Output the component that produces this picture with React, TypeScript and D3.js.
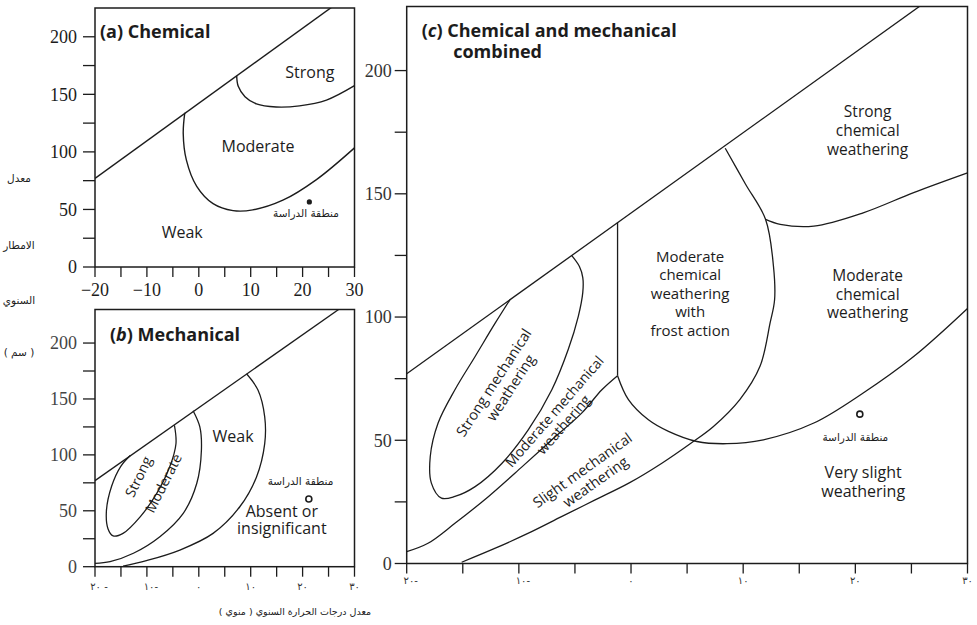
import React from 'react';
import * as d3 from 'd3';

type Pt = [number, number];

// upper limit of the climate field, the same straight edge in all three panels
const envelope: Pt[] = [[-20, 77], [30, 240]];

// (a) chemical weathering boundaries  [temp °C, rain cm]
const chemStrongA: Pt[] = [[7.3, 166], [7.6, 157], [8.9, 148], [11.1, 141.7], [14.9, 139], [19.4, 140], [24.6, 145], [30, 157.5]];
const chemModerateA: Pt[] = [[-2.7, 134], [-3.0, 116], [-2.4, 93], [-0.4, 70], [2.75, 55], [6.6, 49], [10.4, 49.6], [16.2, 58], [22.6, 75.7], [30, 103.5]];

// (b) mechanical weathering boundaries
const mechStrongB: Pt[] = [[-13.2, 99.5], [-15, 90], [-16.8, 72], [-17.8, 50], [-17.5, 34], [-16.5, 27.5], [-14.6, 29.8], [-11.3, 44.6], [-8.1, 65.5], [-5.6, 89.3], [-4.4, 110], [-4.7, 126.5]];
const mechModerateB: Pt[] = [[-1.1, 139.5], [0.2, 125], [0.5, 104], [-0.4, 74.4], [-3, 47.7], [-7.5, 26.8], [-12.6, 12], [-17.1, 4.5], [-20, 3]];
const mechWeakB: Pt[] = [[9.2, 172.5], [11.4, 158], [12.7, 134], [12.7, 110], [11.1, 80], [7.9, 53.6], [2.75, 29.8], [-3.65, 14.9], [-10.1, 5.4], [-14.6, 0.5]];

// (c) combined
const frostEdgeC: Pt[] = [[-1.2, 138.5], [-1.2, 76.2]];
const strongMechC: Pt[] = [[-10.8, 107], [-12.1, 97.6], [-13.9, 84], [-15.7, 70.5], [-17.2, 57], [-17.9, 43.4], [-17.8, 32.6], [-16.9, 26.5], [-15.7, 27.2], [-13.9, 31.2], [-11.5, 40.7], [-9.15, 54.3], [-7.06, 70.5], [-5.6, 86.8], [-4.7, 100.3], [-4.3, 110], [-4.3, 116], [-4.6, 120.5], [-5.3, 125]];
const moderateMechC: Pt[] = [[-1.2, 76.2], [-2.6, 70.5], [-4.4, 61], [-7.06, 50.2], [-9.7, 39.3], [-12.7, 27.2], [-15.7, 16.3], [-18.1, 8.2], [-20, 4.8]];
const weakMechC: Pt[] = [[8.4, 168.5], [10.2, 154], [12, 139.6], [12.7, 120.6], [12.8, 107], [12.4, 97.6], [11.5, 80], [9.7, 66.5], [7.35, 55.6], [5.4, 49], [2.75, 40.7], [-0.2, 32.6], [-3.2, 25.8], [-6.2, 19], [-9.15, 12.3], [-12.1, 6.2], [-15.1, 0.5]];
const strongChemC: Pt[] = [[12, 139.6], [13.3, 137.6], [16.3, 136.9], [20.7, 142.3], [25.2, 150.5], [30, 158.5]];
const moderateChemC: Pt[] = [[-1.2, 76.2], [-0.23, 66.5], [1.55, 58.3], [3.34, 53.6], [5.87, 49.5], [8.55, 48.6], [11.8, 50.2], [16.3, 57], [20.7, 69.2], [25.2, 84], [30, 103.5]];

// study area (منطقة الدراسة)
const studyA: Pt = [21.3, 56.5];
const studyB: Pt = [21.2, 60.5];
const studyC: Pt = [20.4, 60.6];

// ticks and tick labels
const tempTicks = d3.range(-20, 31, 5);
const rainTicks = d3.range(0, 201, 25);
const tempLabelValues = [-20, -10, 0, 10, 20, 30];
const tempLabelsLatin = ['−20', '−10', '0', '10', '20', '30'];
const tempLabelsArabicB = ['٢٠ -', '١٠-', '٠', '١٠', '٢٠', '٣٠'];
const tempLabelsArabicC = ['٢٠-', '١٠-', '٠', '١٠', '٢٠', '٣٠'];
const rainLabelValues = [0, 50, 100, 150, 200];

const W = 977;
const H = 625;
const INK = '#1c1c1c';
const SANS = "'Open Sans', 'Noto Sans', sans-serif";
const SERIF = "'Liberation Serif', 'DejaVu Serif', serif";
const ARABIC = "'DejaVu Sans', sans-serif";
const STUDY = 'منطقة الدراسة';

type Panel = { key: string; left: number; right: number; top: number; bottom: number; yMax: number };
const panelA: Panel = { key: 'a', left: 95, right: 354.5, top: 8, bottom: 267, yMax: 225 };
const panelB: Panel = { key: 'b', left: 95, right: 354.5, top: 309.5, bottom: 566.7, yMax: 230 };
const panelC: Panel = { key: 'c', left: 406.7, right: 967.5, top: 6.5, bottom: 563.5, yMax: 226 };

function scalesFor(p: Panel) {
  const x = d3.scaleLinear().domain([-20, 30]).range([p.left, p.right]);
  const y = d3.scaleLinear().domain([0, p.yMax]).range([p.bottom, p.top]);
  const smooth = d3.line<Pt>().x(d => x(d[0])).y(d => y(d[1])).curve(d3.curveCatmullRom.alpha(0.5));
  const straight = d3.line<Pt>().x(d => x(d[0])).y(d => y(d[1]));
  return { x, y, smooth, straight };
}

function Frame({ p, x, y, labels, xLabelDy, yLabelGap, yLabelFill }: any) {
  return (
    <g>
      <defs>
        <clipPath id={`clip-${p.key}`}>
          <rect x={p.left} y={p.top} width={p.right - p.left} height={p.bottom - p.top} />
        </clipPath>
      </defs>
      <rect x={p.left} y={p.top} width={p.right - p.left} height={p.bottom - p.top} fill="none" stroke={INK} strokeWidth={1.5} />
      {tempTicks.map(t => (
        <line key={'xt' + t} x1={x(t)} x2={x(t)} y1={p.bottom} y2={p.bottom + 10} stroke={INK} strokeWidth={1.3} />
      ))}
      {rainTicks.map(r => (
        <line key={'yt' + r} x1={p.left - 12} x2={p.left} y1={y(r)} y2={y(r)} stroke={INK} strokeWidth={1.3} />
      ))}
      {rainLabelValues.map(r => (
        <text key={'yl' + r} x={p.left - yLabelGap} y={y(r)} dy="0.35em" textAnchor="end" fontFamily={SERIF} fontSize={18} fill={yLabelFill}>{r}</text>
      ))}
      {tempLabelValues.map((t, i) => (
        labels === 'latin'
          ? <text key={'xl' + t} x={x(t)} y={p.bottom + xLabelDy} textAnchor="middle" fontFamily={SERIF} fontSize={18} fill={INK}>{tempLabelsLatin[i]}</text>
          : <text key={'xl' + t} x={x(t) + (t < 0 ? 4 : 0)} y={p.bottom + xLabelDy} textAnchor="middle" fontFamily={ARABIC} fontSize={10} fill="#333">{labels[i]}</text>
      ))}
    </g>
  );
}

function Title({ x, y, letter, rest, italic = true }: any) {
  return (
    <text x={x} y={y} fontFamily={SANS} fontWeight={700} fontSize={18} fill={INK}>
      (<tspan fontStyle={italic ? 'italic' : 'normal'}>{letter}</tspan>) {rest}
    </text>
  );
}

function Lines({ x, y, lines, lh = 18.5, size = 15.5 }: any) {
  return (
    <text x={x} y={y} textAnchor="middle" fontFamily={SANS} fontSize={size} fill={INK}>
      {lines.map((l: string, i: number) => (
        <tspan key={i} x={x} dy={i === 0 ? 0 : lh}>{l}</tspan>
      ))}
    </text>
  );
}

function Rotated({ x, y, angle, lines, lh = 19, size = 15, shift = 0 }: any) {
  const start = -((lines.length - 1) * lh) / 2 + size * 0.35;
  return (
    <g transform={`translate(${x},${y}) rotate(${angle})`}>
      <text textAnchor="middle" fontFamily={SANS} fontSize={size} fill={INK}>
        {lines.map((l: string, i: number) => (
          <tspan key={i} x={i === 0 ? 0 : shift} y={start + i * lh}>{l}</tspan>
        ))}
      </text>
    </g>
  );
}

function PanelA() {
  const p = panelA;
  const { x, y, smooth, straight } = scalesFor(p);
  return (
    <g>
      <Frame p={p} x={x} y={y} labels="latin" xLabelDy={29} yLabelGap={18} yLabelFill={INK} />
      <g clipPath="url(#clip-a)" fill="none" stroke={INK} strokeWidth={1.4}>
        <path d={straight(envelope) || ''} />
        <path d={smooth(chemStrongA) || ''} />
        <path d={smooth(chemModerateA) || ''} />
      </g>
      <Title x={p.left + 5} y={p.top + 30} letter="a" rest="Chemical" italic={false} />
      <Lines x={x(21.4)} y={y(164)} lines={['Strong']} size={16} />
      <Lines x={x(11.4)} y={y(100)} lines={['Moderate']} size={16} />
      <Lines x={x(-3.2)} y={y(25.2)} lines={['Weak']} size={16} />
      <circle cx={x(studyA[0])} cy={y(studyA[1])} r={2.6} fill={INK} />
      <text x={x(20.65)} y={y(43.4)} textAnchor="middle" direction="rtl" fontFamily={ARABIC} fontSize={10.5} fill={INK}>{STUDY}</text>
    </g>
  );
}

function PanelB() {
  const p = panelB;
  const { x, y, smooth, straight } = scalesFor(p);
  return (
    <g>
      <Frame p={p} x={x} y={y} labels={tempLabelsArabicB} xLabelDy={23} yLabelGap={18} yLabelFill="#444" />
      <g clipPath="url(#clip-b)" fill="none" stroke={INK} strokeWidth={1.3}>
        <path d={straight(envelope) || ''} />
        <path d={smooth(mechStrongB) || ''} />
        <path d={smooth(mechModerateB) || ''} />
        <path d={smooth(mechWeakB) || ''} />
      </g>
      <Title x={p.left + 15} y={p.top + 31.5} letter="b" rest="Mechanical" />
      <Lines x={x(6.6)} y={y(111.5)} lines={['Weak']} size={16} />
      <Rotated x={x(-11.6)} y={y(80.5)} angle={-64} lines={['Strong']} size={14} />
      <Rotated x={x(-6.8)} y={y(74.6)} angle={-63} lines={['Moderate']} size={14} />
      <Lines x={x(16)} y={y(44.6)} lines={['Absent or', 'insignificant']} size={16} lh={17.5} />
      <circle cx={x(studyB[0])} cy={y(studyB[1])} r={3} fill="#fff" stroke={INK} strokeWidth={1.6} />
      <text x={x(19.6)} y={y(73)} textAnchor="middle" direction="rtl" fontFamily={ARABIC} fontSize={10.5} fill={INK}>{STUDY}</text>
    </g>
  );
}

function PanelC() {
  const p = panelC;
  const { x, y, smooth, straight } = scalesFor(p);
  return (
    <g>
      <Frame p={p} x={x} y={y} labels={tempLabelsArabicC} xLabelDy={20} yLabelGap={15} yLabelFill="#333" />
      <g clipPath="url(#clip-c)" fill="none" stroke={INK} strokeWidth={1.3}>
        <path d={straight(envelope) || ''} />
        <path d={straight(frostEdgeC) || ''} />
        <path d={smooth(strongMechC) || ''} />
        <path d={smooth(moderateMechC) || ''} />
        <path d={smooth(weakMechC) || ''} />
        <path d={smooth(strongChemC) || ''} />
        <path d={smooth(moderateChemC) || ''} />
      </g>
      <Title x={p.left + 15} y={p.top + 30.5} letter="c" rest="Chemical and mechanical" />
      <text x={p.left + 46.5} y={p.top + 51} fontFamily={SANS} fontWeight={700} fontSize={18} fill={INK}>combined</text>
      <Lines x={x(21.1)} y={y(181.2)} lines={['Strong', 'chemical', 'weathering']} lh={19} />
      <Lines x={x(21.1)} y={y(114.6)} lines={['Moderate', 'chemical', 'weathering']} lh={18.5} />
      <Lines x={x(5.27)} y={y(122.4)} lines={['Moderate', 'chemical', 'weathering', 'with', 'frost action']} lh={18.5} size={15} />
      <Lines x={x(20.7)} y={y(34.7)} lines={['Very slight', 'weathering']} lh={19} size={16} />
      <Rotated x={x(-11.6)} y={y(71.5)} angle={-57} lines={['Strong mechanical', 'weathering']} size={14.5} lh={17} shift={5} />
      <Rotated x={x(-6.3)} y={y(59.6)} angle={-49} lines={['Moderate mechanical', 'weathering']} size={14} lh={15.5} shift={-4} />
      <Rotated x={x(-3.9)} y={y(35)} angle={-35.5} lines={['Slight mechanical', 'weathering']} size={14.5} lh={17} shift={4} />
      <circle cx={x(studyC[0])} cy={y(studyC[1])} r={3} fill="#fff" stroke={INK} strokeWidth={1.6} />
      <text x={x(20)} y={y(49.7)} textAnchor="middle" direction="rtl" fontFamily={ARABIC} fontSize={10.5} fill={INK}>{STUDY}</text>
    </g>
  );
}

function AxisTitles() {
  const rainTitle = [
    { t: 'معدل', yy: 182 },
    { t: 'الامطار', yy: 249 },
    { t: 'السنوي', yy: 304 },
    { t: '( سم )', yy: 356 },
  ];
  return (
    <g fontFamily={ARABIC} fontSize={10.5} fill={INK}>
      {rainTitle.map(d => (
        <text key={d.t} x={19} y={d.yy} textAnchor="middle" direction="rtl">{d.t}</text>
      ))}
      <text x={295} y={615} textAnchor="middle" direction="rtl" fontSize={9.5}>معدل درجات الحرارة  السنوي ( منوي )</text>
    </g>
  );
}

export default function App() {
  return (
    <svg width={W} height={H} style={{ position: 'absolute', left: 0, top: 0, background: '#fff' }}>
      <PanelA />
      <PanelB />
      <PanelC />
      <AxisTitles />
    </svg>
  );
}
